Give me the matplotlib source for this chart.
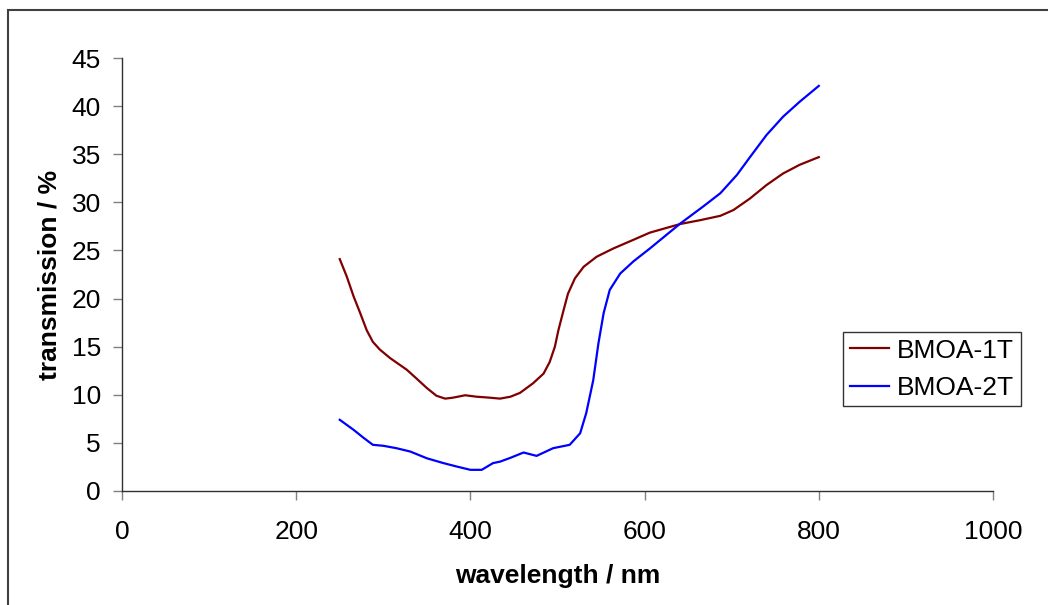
import matplotlib
matplotlib.use("Agg")
import matplotlib.pyplot as plt
from matplotlib.patches import Rectangle

plt.rcParams['font.family'] = ['Liberation Sans', 'DejaVu Sans']

# Transmission spectra of the two films
wl_1t = [250, 258, 266, 273, 281, 288, 296, 308, 327, 338, 350, 361, 371, 380,
         394, 407, 422, 434, 446, 457, 472, 484, 491, 497, 501, 507, 512, 520,
         530, 545, 564, 587, 606, 641, 664, 687, 702, 721, 740, 759, 778, 800]
tr_1t = [24.1, 22.3, 20.2, 18.6, 16.7, 15.5, 14.7, 13.8, 12.6, 11.7, 10.7, 9.9,
         9.6, 9.7, 9.95, 9.8, 9.7, 9.6, 9.8, 10.2, 11.2, 12.2, 13.4, 15.0, 16.7,
         18.8, 20.5, 22.1, 23.3, 24.35, 25.2, 26.1, 26.85, 27.75, 28.15, 28.6,
         29.2, 30.4, 31.8, 33.0, 33.9, 34.7]

wl_2t = [250, 266, 277, 288, 300, 315, 331, 350, 369, 384, 400, 413, 426, 434,
         446, 461, 476, 495, 514, 526, 533, 541, 547, 553, 560, 572, 587, 606,
         641, 667, 687, 706, 721, 740, 759, 778, 800]
tr_2t = [7.4, 6.35, 5.55, 4.8, 4.7, 4.45, 4.1, 3.4, 2.9, 2.55, 2.2, 2.2, 2.9,
         3.05, 3.45, 4.0, 3.65, 4.45, 4.8, 6.0, 8.1, 11.5, 15.35, 18.5, 20.9,
         22.6, 23.85, 25.2, 27.8, 29.55, 30.95, 32.85, 34.7, 37.0, 38.9, 40.45,
         42.1]

series_names = ["BMOA-1T", "BMOA-2T"]
x_ticks = [0, 200, 400, 600, 800, 1000]
y_ticks = [0, 5, 10, 15, 20, 25, 30, 35, 40, 45]

FS = 19
W, H = 1048, 605
fig = plt.figure(figsize=(W / 100, H / 100), dpi=100)
ax = fig.add_axes([122 / W, 1 - 491 / H, (993 - 122) / W, (491 - 58) / H])

ax.plot(wl_1t, tr_1t, color="#800000", lw=1.6, label=series_names[0],
        solid_joinstyle="round")
ax.plot(wl_2t, tr_2t, color="#0000FF", lw=1.6, label=series_names[1],
        solid_joinstyle="round")

ax.set_xlim(0, 1000)
ax.set_ylim(0, 45)
ax.set_xticks(x_ticks)
ax.set_yticks(y_ticks)

for side in ("top", "right"):
    ax.spines[side].set_visible(False)
for side in ("left", "bottom"):
    ax.spines[side].set_color("#303030")
    ax.spines[side].set_linewidth(1.0)

ax.tick_params(axis="both", direction="out", length=6.5, width=1.0,
               color="#808080", labelsize=FS, labelcolor="black")
ax.tick_params(axis="x", pad=14.5)
ax.tick_params(axis="y", pad=8.8)

ax.set_xlabel("wavelength / nm", fontsize=FS, fontweight="bold", labelpad=14)
ax.set_ylabel("transmission / %", fontsize=FS, fontweight="bold", labelpad=7)

leg = fig.legend(loc="upper left", bbox_to_anchor=(843 / W, 1 - 332 / H),
                 bbox_transform=fig.transFigure, fontsize=FS, frameon=True,
                 fancybox=False, borderaxespad=0, handlelength=1.5,
                 handletextpad=0.3, borderpad=0.25, labelspacing=0.5)
leg.get_frame().set_edgecolor("black")
leg.get_frame().set_linewidth(1.0)

# Chart-area border
fig.add_artist(Rectangle((8 / W, -0.1), 1.2, 1 - 10 / H + 0.1, fill=False,
                         edgecolor="#404040", lw=1.5, transform=fig.transFigure,
                         clip_on=False))

fig.savefig("out.png", dpi=100)
